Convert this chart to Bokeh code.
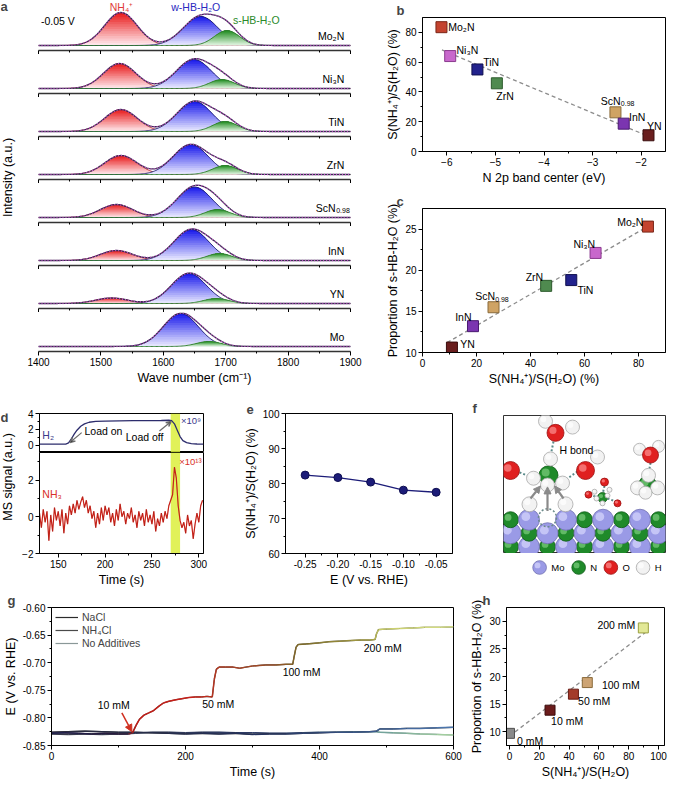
import numpy as np
from bokeh.plotting import figure
from bokeh.layouts import column, row
from bokeh.models import (Range1d, FixedTicker, Label, Arrow, NormalHead, VeeHead,
                          Legend, LegendItem, NumeralTickFormatter, BoxAnnotation)
from bokeh.core.properties import value
from bokeh.embed import file_html
from bokeh.resources import INLINE

FONT = "Liberation Sans"

# ---- a: fitted bands at -0.05 V (centre in cm-1, height in a.u.) ----
a_samples = ["Mo₂N", "Ni₃N", "TiN", "ZrN", "ScN", "InN", "YN", "Mo"]
nh4_center = [1532, 1530, 1532, 1532, 1525, 1525, 1517, 1525]
nh4_height = [33, 25, 22, 19, 13, 10, 5.5, 0]
whb_center = [1660, 1649, 1650, 1644, 1650, 1645, 1641, 1628]
whb_height = [29, 29, 30, 30, 30.5, 31, 30, 33]
shb_center = [1702, 1694, 1699, 1699, 1687, 1690, 1685, 1673]
shb_height = [15, 9, 10, 9, 8, 7, 5, 5]
band_sigma = [26, 28, 20]  # NH4+, w-HB, s-HB

# ---- b, c ----
nitrides = ["Mo₂N", "Ni₃N", "TiN", "ZrN", "ScN", "InN", "YN"]
n2p_center = [-6.11, -5.93, -5.37, -4.97, -2.53, -2.36, -1.85]
nh4_ratio = [83.5, 64.1, 55.1, 45.8, 26.3, 18.7, 10.9]
shb_prop = [25.3, 22.1, 18.8, 18.1, 15.5, 13.2, 10.6]
b_fit_x = [-6.1, -1.8]
b_fit_y = [68.2, 9.5]
c_fit_x = [9.1, 83.8]
c_fit_y = [11.2, 25.4]

# ---- d: MS signals ----
h2_time = [130, 150, 158, 161, 164, 167, 170, 174, 178, 183, 190, 200, 215, 230, 245, 260,
           268, 271, 274, 277, 280, 283, 287, 292, 298, 305]
h2_signal = [0.15, 0.15, 0.16, 0.3, 0.8, 1.4, 1.9, 2.4, 2.7, 2.9, 3.0, 3.05, 3.08, 3.1, 3.1, 3.12,
             3.15, 3.1, 2.7, 1.9, 1.1, 0.6, 0.35, 0.22, 0.17, 0.15]
nh3_time = list(range(130, 305, 2))
nh3_signal = [0.2, -0.6, 0.4, -0.3, 0.3, -1.3, 0.1, -0.8, 0.5, -0.2,
              0.3, -0.5, 0.4, -0.9, 0.2, -0.4, 0.6, 0.1, 0.7, 0.2,
              0.9, 0.4, 0.8, 1.1, 0.5, 0.9, 0.2, 0.6, -0.1, 0.3,
              -0.6, 0.2, -0.4, 0.5, -0.2, 0.6, 0.1, 0.5, -0.3, 0.2,
              -0.5, 0.4, -0.2, 0.7, 0.0, 0.3, -0.4, 0.2, -0.1, 0.5,
              -0.3, 0.1, -0.6, 0.3, -0.2, 0.2, -0.5, 0.4, -0.3, 0.1,
              -0.4, 0.3, -0.8, -0.1, -0.5, 0.2, -0.3, 0.3, -0.1, 0.6,
              0.9, 1.2, 2.7, 2.1, 0.6, -0.2, -0.6, -0.3, -0.9, 0.1,
              -0.5, -0.2, -1.2, -0.4, 0.2, -0.3, 0.6, 0.9]
band_start, band_end = 270, 280

# ---- e ----
e_potential = [-0.25, -0.20, -0.15, -0.10, -0.05]
e_ratio = [82.4, 81.7, 80.4, 78.1, 77.5]

# ---- g: potential vs time ----
nh4cl_time = [0, 20, 40, 60, 80, 100, 115, 121, 126, 131, 138, 145, 152, 160, 167, 175, 186,
              196, 205, 215, 224, 232, 240, 243, 246, 250, 260, 271, 281, 290, 300, 310, 320,
              335, 350, 360, 362, 365, 368, 380, 390, 400, 414, 430, 446, 462, 475, 483, 485,
              488, 500, 520, 540, 557, 580, 600]
nh4cl_e = [-0.828, -0.827, -0.828, -0.829, -0.828, -0.829, -0.829, -0.827, -0.814, -0.803,
           -0.795, -0.791, -0.787, -0.779, -0.773, -0.770, -0.767, -0.765, -0.763, -0.762,
           -0.762, -0.761, -0.762, -0.730, -0.712, -0.708, -0.708, -0.708, -0.710, -0.708,
           -0.706, -0.705, -0.704, -0.704, -0.703, -0.703, -0.690, -0.672, -0.667, -0.666,
           -0.665, -0.664, -0.662, -0.661, -0.660, -0.659, -0.659, -0.658, -0.648, -0.640,
           -0.639, -0.638, -0.637, -0.636, -0.636, -0.635]
ref_time = [0, 25, 50, 75, 100, 125, 150, 175, 200, 225, 250, 275, 300, 325, 350, 375, 400,
            425, 450, 475, 485, 490, 510, 530, 550, 575, 600]
nacl_e = [-0.826, -0.825, -0.824, -0.825, -0.826, -0.826, -0.827, -0.828, -0.829, -0.828,
          -0.829, -0.828, -0.830, -0.829, -0.829, -0.828, -0.827, -0.826, -0.826, -0.825,
          -0.824, -0.820, -0.820, -0.819, -0.819, -0.818, -0.817]
noadd_e = [-0.829, -0.830, -0.829, -0.830, -0.829, -0.828, -0.826, -0.826, -0.827, -0.826,
           -0.826, -0.827, -0.827, -0.828, -0.828, -0.827, -0.826, -0.826, -0.825, -0.825,
           -0.825, -0.826, -0.827, -0.828, -0.829, -0.830, -0.831]
g_steps = ["10 mM", "50 mM", "100 mM", "200 mM"]

# ---- h ----
h_conc = ["0 mM", "10 mM", "50 mM", "100 mM", "200 mM"]
h_ratio = [0.0, 27.2, 42.9, 52.2, 89.8]
h_prop = [9.7, 13.9, 16.8, 18.9, 28.8]
h_fit_x = [0, 92.8]
h_fit_y = [9.2, 28.3]


def rgb(h):
    return tuple(int(h[i:i + 2], 16) for i in (1, 3, 5))


def mix(c1, c2, f):
    return "#%02x%02x%02x" % tuple(int(round(a + (b - a) * f)) for a, b in zip(c1, c2))


def ramp(stops, t):
    for (t0, c0), (t1, c1) in zip(stops[:-1], stops[1:]):
        if t <= t1:
            f = 0 if t1 == t0 else (t - t0) / (t1 - t0)
            return mix(rgb(c0), rgb(c1), max(0.0, min(1.0, f)))
    return stops[-1][1]


def fig(w, h, xr, yr, left, right, top, bottom, xloc="below", yloc="left"):
    p = figure(width=w, height=h, x_range=Range1d(*xr), y_range=Range1d(*yr),
               toolbar_location=None, tools="", output_backend="svg",
               min_border_left=left, min_border_right=right,
               min_border_top=top, min_border_bottom=bottom,
               x_axis_location=xloc, y_axis_location=yloc)
    p.xgrid.grid_line_color = None
    p.ygrid.grid_line_color = None
    p.outline_line_color = "black"
    for ax in list(p.xaxis) + list(p.yaxis):
        ax.axis_line_color = "black"
        ax.major_tick_in = 0
        ax.major_tick_out = 4
        ax.minor_tick_in = 0
        ax.minor_tick_out = 2
        ax.major_tick_line_color = "black"
        ax.minor_tick_line_color = "black"
        ax.major_label_text_font = FONT
        ax.major_label_text_font_size = "10px"
        ax.major_label_text_color = "black"
        ax.major_label_standoff = 2
        ax.axis_label_text_font = FONT
        ax.axis_label_text_font_size = "12.5px"
        ax.axis_label_text_font_style = "normal"
        ax.axis_label_text_color = "black"
        ax.axis_label_standoff = 2
    return p


def ticks(p, xt=None, xm=None, yt=None, ym=None):
    if xt:
        p.xaxis.ticker = FixedTicker(ticks=xt, minor_ticks=xm or [])
    if yt:
        p.yaxis.ticker = FixedTicker(ticks=yt, minor_ticks=ym or [])


def txt(p, x, y, s, size="10.5px", color="black", align="left", angle=0):
    p.text(x=x, y=y, text=s, text_font=value(FONT), text_font_size=size, text_color=color,
           text_align=align, text_baseline="middle", angle=angle)


def letter(p, s, dx):
    # panel letter drawn as the figure title, pushed left of the frame
    p.title.text = s
    p.title.align = "left"
    p.title.offset = dx
    p.title.standoff = 0
    p.title.text_font = FONT
    p.title.text_font_size = "13px"
    p.title.text_font_style = "bold"


# ================= a =================
pa_lab = fig(20, 398, (0, 20), (0, 398), 0, 0, 0, 0, None, None)
pa_lab.outline_line_color = None
txt(pa_lab, [7], [221], ["Intensity (a.u.)"], size="12.5px", align="center", angle=np.pi / 2)
pa_lab.add_layout(Label(x=0, y=398, text="a", text_font=FONT, text_font_size="13px",
                        text_font_style="bold", text_baseline="top", y_offset=2))

wn = np.arange(1400, 1901, 2.0)
K = 14
peak_styles = [((232, 22, 22), (255, 238, 242), "#b8323a"),
               ((22, 22, 235), (238, 238, 255), "#20206a"),
               ((30, 140, 30), (230, 247, 230), "#2d7a2d")]
a_heights = [54, 43, 43, 43, 43, 43, 43, 86]
a_figs = []
for i, name in enumerate(a_samples):
    last = i == len(a_samples) - 1
    top = 45 if i == 0 else 34
    p = fig(344, a_heights[i], (1400, 1900), (-5, top), 18, 14, 0, 47 if last else 4, "below", None)
    p.outline_line_color = None
    ax = p.xaxis[0]
    ax.axis_line_color = "#333333"
    ax.axis_line_width = 1.3
    ticks(p, [1400, 1500, 1600, 1700, 1800, 1900], [1450, 1550, 1650, 1750, 1850])
    if last:
        ax.axis_label = "Wave number (cm⁻¹)"
    else:
        ax.major_label_text_color = None
        ax.major_label_text_font_size = "1px"
        ax.major_label_standoff = 0
    total = np.zeros_like(wn)
    bands = [(nh4_center[i], nh4_height[i]), (whb_center[i], whb_height[i]),
             (shb_center[i], shb_height[i])]
    for (c, h), sig, (base, light, edge) in zip(bands, band_sigma, peak_styles):
        if h <= 0:
            continue
        y = h * np.exp(-0.5 * ((wn - c) / sig) ** 2)
        # vertical gradient: stacked layers, each reaching the curve
        for k in range(K):
            lo = h * k / K
            p.varea(x=wn, y1=np.minimum(y, lo), y2=y, fill_color=mix(light, base, (k + 0.5) / K))
        p.line(wn, y, line_color=edge, line_width=0.9)
        total = total + y
    p.line(wn, total, line_color="#3b2f52", line_width=1.3)
    p.line(wn, total, line_color="#d65ad6", line_width=1.4, line_dash="1 2", alpha=0.9)
    if name == "ScN":
        txt(p, [1876], [10], ["ScN"], align="right")
        txt(p, [1877], [7], ["0.98"], size="7px")
    else:
        txt(p, [1890], [10], [name], align="right")
    if i == 0:
        txt(p, [1533], [39], ["NH₄⁺"], color="#e03a3a", align="center")
        txt(p, [1652], [39], ["w-HB-H₂O"], color="#2a2ac0", align="center")
        txt(p, [1749], [26], ["s-HB-H₂O"], color="#2a8a2a", align="center")
        txt(p, [1404], [25], ["-0.05 V"])
    a_figs.append(p)

nit_fill = ["#c4432f", "#c868cc", "#22228c", "#4f8a4f", "#cfa364", "#7b35b0", "#6a1e1e"]
nit_edge = ["#7a2618", "#8a3a8e", "#10104e", "#2c5a2c", "#8a6a3a", "#4a1a70", "#3a0e0e"]

# ================= b =================
pb = fig(305, 190, (-6.5, -1.5), (0, 90), 58, 4, 15, 39)
ticks(pb, [-6, -5, -4, -3, -2], [-5.5, -4.5, -3.5, -2.5], [0, 20, 40, 60, 80], [10, 30, 50, 70])
pb.xaxis.axis_label = "N 2p band center (eV)"
pb.yaxis.axis_label = "S(NH₄⁺)/S(H₂O) (%)"
pb.line(b_fit_x, b_fit_y, line_color="#8c8c8c", line_width=1.3, line_dash="4 3")
pb.scatter(n2p_center, nh4_ratio, marker="square", size=11, fill_color=nit_fill,
           line_color=nit_edge, line_width=1)
txt(pb, [-5.97, -5.8, -5.25, -4.98, -2.83, -2.25, -1.88], [83.3, 68.5, 60.3, 37.4, 34.2, 23.3, 17.1],
    ["Mo₂N", "Ni₃N", "TiN", "ZrN", "ScN", "InN", "YN"])
txt(pb, [-2.42], [32.3], ["0.98"], size="7px")
letter(pb, "b", -26)

# ================= c =================
pc = fig(305, 208, (0, 90), (10, 27.5), 58, 4, 18, 46)
ticks(pc, [0, 20, 40, 60, 80], [10, 30, 50, 70], [10, 15, 20, 25], [12.5, 17.5, 22.5])
pc.xaxis.axis_label = "S(NH₄⁺)/S(H₂O) (%)"
pc.yaxis.axis_label = "Proportion of s-HB-H₂O (%)"
pc.line(c_fit_x, c_fit_y, line_color="#8c8c8c", line_width=1.3, line_dash="4 3")
pc.scatter(nh4_ratio, shb_prop, marker="square", size=11, fill_color=nit_fill,
           line_color=nit_edge, line_width=1)
txt(pc, [72.1, 55.9, 57.4, 38.2, 19.5, 12.1, 14.0], [25.9, 23.2, 17.6, 19.2, 16.9, 14.3, 11.0],
    ["Mo₂N", "Ni₃N", "TiN", "ZrN", "ScN", "InN", "YN"])
txt(pc, [26.9], [16.5], ["0.98"], size="7px")
letter(pc, "c", -26)

# ================= d =================
pd_lab = fig(17, 192, (0, 17), (0, 192), 0, 0, 0, 0, None, None)
pd_lab.outline_line_color = None
txt(pd_lab, [7], [105], ["MS signal (a.u.)"], size="12.5px", align="center", angle=np.pi / 2)
pd_lab.add_layout(Label(x=0, y=192, text="d", text_font=FONT, text_font_size="13px",
                        text_font_style="bold", text_baseline="top", y_offset=4))

pd1 = fig(215, 54, (130, 305), (-0.9, 4), 22, 29, 15, 0, None, "left")
ticks(pd1, yt=[0, 2, 4], ym=[1, 3])
pd1.add_layout(BoxAnnotation(left=band_start, right=band_end, fill_color="#dcef3c",
                             fill_alpha=0.85, line_color=None, level="underlay"))
pd1.line(h2_time, h2_signal, line_color="#2c2c6c", line_width=1.3)
txt(pd1, [133], [1.3], ["H₂"], color="#3a3a8a")
txt(pd1, [178], [1.85], ["Load on"])
txt(pd1, [222], [1.0], ["Load off"])
txt(pd1, [281], [3.1], ["×10⁹"], size="9.5px", color="#3a3a8a")
pd1.add_layout(Arrow(end=VeeHead(size=5, line_color="#6a6a6a", line_width=1.2),
                     x_start=175, y_start=1.6, x_end=162.5, y_end=0.35,
                     line_color="#6a6a6a", line_width=1.2))
pd1.add_layout(Arrow(end=VeeHead(size=5, line_color="#6a6a6a", line_width=1.2),
                     x_start=258, y_start=1.8, x_end=270.5, y_end=3.0,
                     line_color="#6a6a6a", line_width=1.2))

pd2 = fig(215, 138, (130, 305), (-2, 3.5), 22, 29, 0, 37)
ticks(pd2, [150, 200, 250, 300], [175, 225, 275], [-2, 0, 2], [-1, 1, 3])
pd2.xaxis.axis_label = "Time (s)"
pd2.add_layout(BoxAnnotation(left=band_start, right=band_end, fill_color="#dcef3c",
                             fill_alpha=0.85, line_color=None, level="underlay"))
pd2.line(nh3_time, nh3_signal, line_color="#dd2a1e", line_width=1.2)
pd2.line(nh3_time, nh3_signal, line_color="#6a1010", line_width=0.4, alpha=0.6)
txt(pd2, [133], [1.25], ["NH₃"], color="#d8302a")
txt(pd2, [279], [3.0], ["×10¹³"], size="9.5px", color="#d8302a")

# ================= e =================
pe = fig(230, 192, (-0.28, -0.025), (60, 100), 53, 10, 15, 37)
ticks(pe, [-0.25, -0.20, -0.15, -0.10, -0.05], [-0.225, -0.175, -0.125, -0.075],
      [60, 70, 80, 90, 100], [65, 75, 85, 95])
pe.xaxis.formatter = NumeralTickFormatter(format="0.00")
pe.xaxis.axis_label = "E (V vs. RHE)"
pe.yaxis.axis_label = "S(NH₄⁺)/S(H₂O) (%)"
pe.line(e_potential, e_ratio, line_color="#1c1c78", line_width=1.3)
pe.scatter(e_potential, e_ratio, marker="circle", size=8, fill_color="#1c1c78",
           line_color="#0e0e50")
letter(pe, "e", -39)

# ================= f (schematic) =================
pf = fig(207, 155, (0, 162), (0, 143), 41, 4, 15, 0, None, None)
pf.outline_line_color = "#333333"
MO = ("#9a9ae6", "#7070b0", "#dcdcff")
NN = ("#1f8a2a", "#0e5a16", "#86d486")
OO = ("#e02020", "#9a1010", "#ff9a9a")
HH = ("#f2f2f2", "#a8a8a8", "#ffffff")


def spheres(p, xs, ys, rs, style):
    base, edge, light = style
    p.circle(x=xs, y=ys, radius=rs, fill_color=base, line_color=edge, line_width=0.8)
    p.circle(x=[x - 0.3 * r for x, r in zip(xs, rs)], y=[y + 0.3 * r for y, r in zip(ys, rs)],
             radius=[0.42 * r for r in rs], fill_color=light, fill_alpha=0.65, line_color=None)


sub_cols = [7, 25.5, 44, 62.5, 81, 99.5, 118, 136.5, 155]
sub_rows = [(7, 0), (21, 1), (35, 0)]  # (height, parity of Mo)
for yrow, par in sub_rows:
    mo_x = [x for j, x in enumerate(sub_cols) if j % 2 != par]
    n_x = [x for j, x in enumerate(sub_cols) if j % 2 == par and not (yrow == 35 and j == 2)]
    spheres(pf, n_x, [yrow] * len(n_x), [8] * len(n_x), NN)
    spheres(pf, mo_x, [yrow] * len(mo_x), [10.5] * len(mo_x), MO)
pf.circle(x=[44], y=[37], radius=[9], fill_color=None, line_color="#6a8a8a",
          line_dash="2 2", line_width=1.5)
spheres(pf, [26, 62], [51, 51], [7.5, 7.5], HH)
for xs, ys, xe, ye in [(27, 57, 37, 70), (44, 44, 44, 69), (60, 57, 51, 70)]:
    pf.add_layout(Arrow(end=NormalHead(size=7, fill_color="#8a8a8a", line_color="#8a8a8a"),
                        x_start=xs, y_start=ys, x_end=xe, y_end=ye,
                        line_color="#8a8a8a", line_width=2.2))
# hydrogen bonds
pf.multi_line(xs=[[50, 48], [16, 28], [74, 63], [147, 146], [86, 95], [101, 99], [104, 112]],
              ys=[[116, 106], [84, 79], [85, 77], [94, 88], [61, 58], [70, 61], [57, 54]],
              line_color="#5a8a8a", line_dash="2 2", line_width=2)
spheres(pf, [45, 144, 99], [81, 71, 58], [9.5, 9, 5], NN)
spheres(pf, [47, 30, 44, 59, 42, 69, 94, 145, 134, 154, 142, 136, 155,
             93, 104, 99, 91, 106],
        [98, 78, 71, 73, 137, 131, 100, 81, 68, 68, 63, 108, 111,
         57, 60, 52, 64, 66],
        [7, 7, 7, 7, 7, 7, 7, 7, 7, 7, 6.5, 6, 6,
         2.5, 2.5, 2.5, 2.5, 2.5], HH)
spheres(pf, [52, 7, 82, 147, 85, 114, 101], [125, 86, 86, 102, 61, 52, 74],
        [8.5, 9, 9, 8, 3.5, 3.5, 4], OO)
txt(pf, [56], [107], ["H bond"], size="10.5px")
letter(pf, "f", -31)

pf2 = fig(207, 37, (0, 166), (0, 37), 41, 0, 0, 0, None, None)
pf2.outline_line_color = None
for xc, st, lab in [(37, MO, "Mo"), (77, NN, "N"), (110, OO, "O"), (143, HH, "H")]:
    spheres(pf2, [xc], [23], [7], st)
    txt(pf2, [xc + 12], [23], [lab], size="9.5px")

# ================= g =================
pg = fig(466, 191, (0, 600), (-0.85, -0.60), 44, 13, 15, 36)
ticks(pg, [0, 200, 400, 600], [100, 300, 500],
      [-0.85, -0.80, -0.75, -0.70, -0.65, -0.60], [-0.825, -0.775, -0.725, -0.675, -0.625])
pg.yaxis.formatter = NumeralTickFormatter(format="0.00")
pg.xaxis.axis_label = "Time (s)"
pg.yaxis.axis_label = "E (V vs. RHE)"

curves = [
    ("No Additives", "#8a9898", ref_time, noadd_e,
     [(0, "#3a3a4a"), (350, "#2a3a6a"), (480, "#6a9a9a"), (600, "#a8d4a0")]),
    ("NaCl", "#2b2b2b", ref_time, nacl_e,
     [(0, "#2a2a3a"), (300, "#23305a"), (600, "#4d78b0")]),
    ("NH₄Cl", "#4a4a4a", nh4cl_time, nh4cl_e,
     [(0, "#1e1e50"), (112, "#2a1a3a"), (125, "#c41a14"), (215, "#cc2018"), (250, "#b03a22"),
      (330, "#985028"), (370, "#7d6a28"), (480, "#a8a448"), (490, "#c8cc68"), (600, "#d6e08a")]),
]
leg = {}
for name, gray, ts, es, stops in curves:
    # plain line (used by the legend), covered by the colour-graded segments
    leg[name] = pg.line(ts, es, line_color=gray, line_width=1.2)
    mids = [(a + b) / 2 for a, b in zip(ts[:-1], ts[1:])]
    pg.segment(x0=ts[:-1], y0=es[:-1], x1=ts[1:], y1=es[1:],
               line_color=[ramp(stops, m) for m in mids], line_width=1.5)

pg.add_layout(Legend(items=[LegendItem(label=l, renderers=[leg[l]])
                            for l in ["NaCl", "NH₄Cl", "No Additives"]],
                     location="top_left", border_line_color=None, background_fill_alpha=0,
                     label_text_font=FONT, label_text_font_size="10.5px", glyph_width=23,
                     glyph_height=12, label_height=12, spacing=1, padding=3, margin=4,
                     label_standoff=4))
txt(pg, [69, 225, 345, 466], [-0.777, -0.775, -0.717, -0.673], g_steps)
pg.add_layout(Arrow(end=NormalHead(size=7, fill_color="#d03020", line_color="#d03020"),
                    x_start=105, y_start=-0.791, x_end=120, y_end=-0.825,
                    line_color="#d03020", line_width=1.5))
letter(pg, "g", -44)

# ================= h =================
ph = fig(203, 191, (-2, 104), (7.5, 32.5), 40, 5, 15, 36)
ticks(ph, [0, 20, 40, 60, 80, 100], [10, 30, 50, 70, 90], [10, 15, 20, 25, 30],
      [12.5, 17.5, 22.5, 27.5])
ph.xaxis.axis_label = "S(NH₄⁺)/S(H₂O)"
ph.yaxis.axis_label = "Proportion of s-HB-H₂O (%)"
ph.line(h_fit_x, h_fit_y, line_color="#8c8c8c", line_width=1.3, line_dash="4 3")
ph.scatter(h_ratio, h_prop, marker="square", size=10,
           fill_color=["#8a8a8a", "#6b1c1c", "#a33a2a", "#cda474", "#e2e896"],
           line_color=["#505050", "#3a0c0c", "#6a1c14", "#8a6a3a", "#9aa040"], line_width=1)
txt(ph, [5, 27.9, 46, 62, 59], [8.4, 11.9, 15.5, 18.4, 29.4], h_conc)
letter(ph, "h", -24)

layout = column(
    row(pa_lab, column(*a_figs), column(pb, pc)),
    row(pd_lab, column(pd1, pd2), pe, column(pf, pf2)),
    row(pg, ph),
)
open("out.html", "w").write(file_html(layout, INLINE))
